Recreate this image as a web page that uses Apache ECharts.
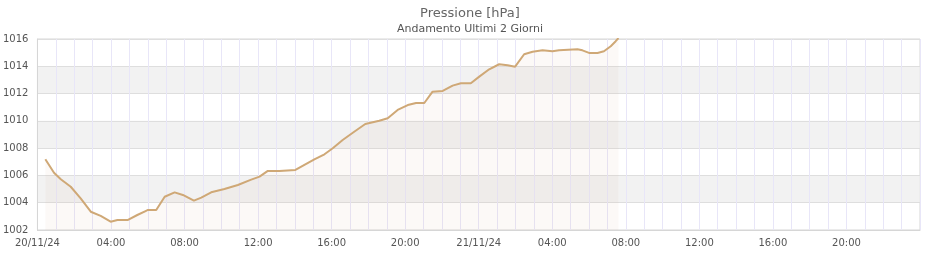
<!DOCTYPE html>
<html>
<head>
<meta charset="utf-8">
<script src="https://cdn.jsdelivr.net/npm/echarts@6/dist/echarts.min.js"></script>
<style>html,body{margin:0;padding:0;background:#fff}#c{width:940px;height:260px}</style>
</head>
<body>
<div id="c"></div>
<script>
// Hours since 20/11/24 00:00
var hours = [0.43,0.9,1.27,1.81,2.35,2.9,3.44,3.98,4.35,4.9,5.43,5.88,6.01,6.46,6.92,7.46,7.91,8.51,8.91,9.45,10.17,10.9,11.59,12.08,12.53,13.16,14.03,14.52,15.06,15.61,16.06,16.6,17.15,17.83,18.59,19.05,19.59,20.14,20.59,21.04,21.49,22.04,22.58,23.03,23.57,24.03,24.57,25.11,25.57,25.98,26.47,26.93,27.47,28.01,28.37,29.37,29.64,30.0,30.46,30.81,31.18,31.45,31.6];
var pressure = [1007.18,1006.2,1005.72,1005.17,1004.32,1003.34,1003.03,1002.61,1002.73,1002.73,1003.1,1003.39,1003.47,1003.47,1004.44,1004.76,1004.57,1004.15,1004.37,1004.76,1005.0,1005.3,1005.67,1005.91,1006.33,1006.33,1006.4,1006.77,1007.18,1007.55,1007.99,1008.6,1009.13,1009.77,1010.01,1010.19,1010.8,1011.16,1011.31,1011.31,1012.14,1012.19,1012.58,1012.76,1012.76,1013.24,1013.78,1014.15,1014.07,1013.97,1014.88,1015.07,1015.17,1015.1,1015.17,1015.25,1015.17,1014.98,1014.98,1015.1,1015.47,1015.84,1016.07];
var dayLabels = {0:'20/11/24', 24:'21/11/24', 48:'22/11/24'};
var titleText = 'Pressione [hPa]';
var subtitleText = 'Andamento Ultimi 2 Giorni';

var data = hours.map(function(h,i){return [h, pressure[i]];});
var chart = echarts.init(document.getElementById('c'), null, {renderer:'canvas'});
chart.setOption({
  animation:false,
  textStyle:{fontFamily:'DejaVu Sans'},
  title:{
    text:titleText, subtext:subtitleText, left:'center', top:2, itemGap:4,
    textStyle:{fontSize:13, fontWeight:'normal', color:'#666', fontFamily:'DejaVu Sans'},
    subtextStyle:{fontSize:11, color:'#555', fontFamily:'DejaVu Sans'}
  },
  grid:{left:36, right:20, top:39, bottom:30, show:true, borderColor:'#d6d6d6', borderWidth:1, backgroundColor:'transparent', containLabel:false},
  xAxis:{
    type:'value', min:0, max:48, interval:4,
    axisLine:{show:true, lineStyle:{color:'#d6d6d6'}},
    axisTick:{show:false},
    axisLabel:{color:'#555', fontSize:10, margin:8, showMaxLabel:false,
      formatter:function(v){ if(dayLabels[v]!==undefined) return dayLabels[v]; var h=v%24; return (h<10?'0':'')+h+':00'; }},
    splitLine:{show:true, lineStyle:{color:'#e8e6f8', width:1}},
    minorTick:{show:false, splitNumber:4},
    minorSplitLine:{show:true, lineStyle:{color:'#e8e6f8', width:1}}
  },
  yAxis:{
    type:'value', min:1002, max:1016, interval:2,
    axisLine:{show:true, lineStyle:{color:'#d6d6d6'}},
    axisTick:{show:false},
    axisLabel:{color:'#555', fontSize:10, margin:9, formatter:function(v){return String(v);}},
    splitLine:{show:true, lineStyle:{color:'#dedede', width:1}},
    splitArea:{show:true, areaStyle:{color:['rgba(255,255,255,0)','rgba(238,238,238,0.75)']}}
  },
  series:[{
    type:'line', data:data, showSymbol:false, smooth:false,
    lineStyle:{color:'#cfa876', width:2},
    areaStyle:{color:'rgba(205,160,120,0.09)'}
  }]
});
</script>
</body>
</html>
